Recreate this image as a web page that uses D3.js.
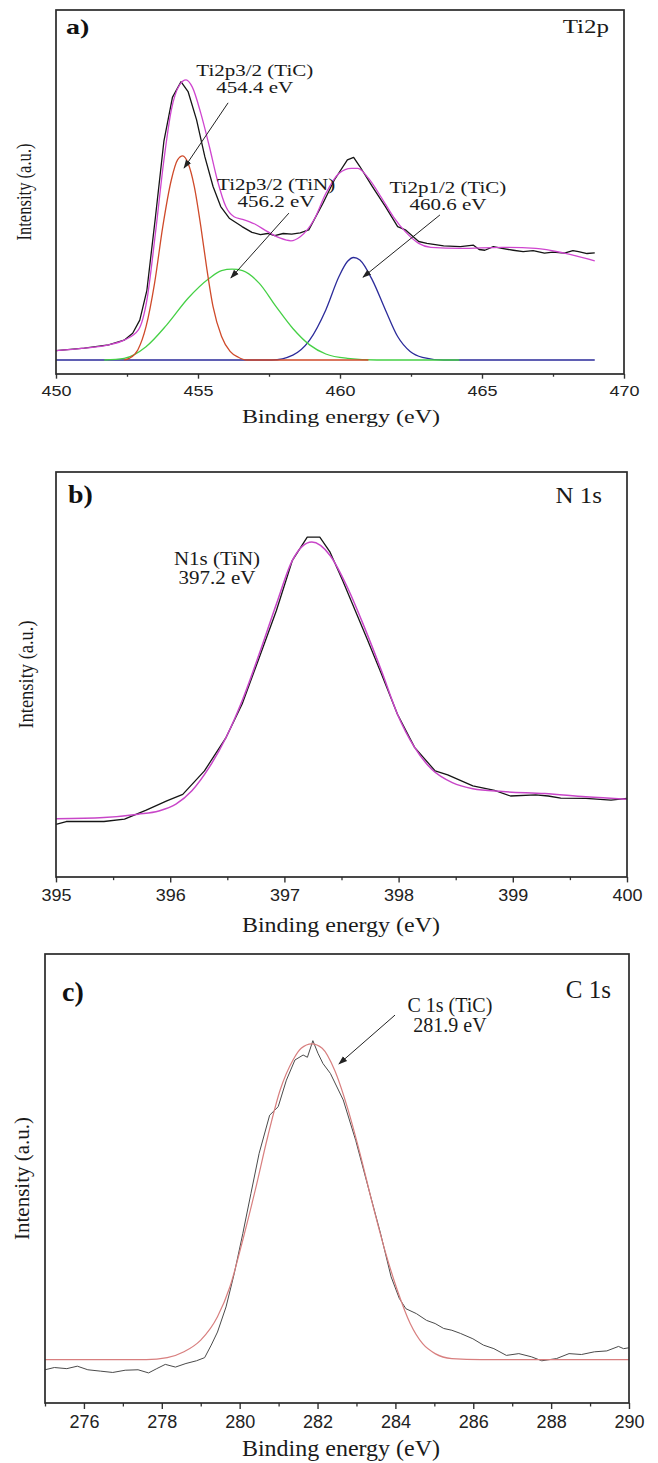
<!DOCTYPE html>
<html>
<head>
<meta charset="utf-8">
<script src="https://cdn.jsdelivr.net/npm/d3@7"></script>
<style>
  body { margin: 0; background: #fff; }
  svg { display: block; }
</style>
</head>
<body>
<svg id="xps"></svg>
<script>
// ---- data (binding energy eV, intensity a.u.) ----
var ti2pTicks = [450, 455, 460, 465, 470];
var n1sTicks = [395, 396, 397, 398, 399, 400];
var c1sTicks = [276, 278, 280, 282, 284, 286, 288, 290];

var ti2pRaw = [[450.0,6.4],[451.0,7.1],[451.85,8.0],[452.4,9.3],[452.7,11.2],[452.95,14.8],[453.2,23],[453.5,43],[453.8,64],[454.1,76],[454.4,80.3],[454.65,77.6],[454.95,69.8],[455.24,59.7],[455.53,51.5],[455.8,46],[456.1,42.8],[456.55,40.5],[456.9,38.9],[457.2,38.3],[457.45,38.6],[457.7,38.0],[458.0,38.6],[458.3,38.4],[458.6,38.8],[458.9,39.6],[459.4,46.9],[459.8,53.3],[460.26,58.8],[460.48,59.5],[460.7,57],[461.14,51.5],[461.6,46],[462.03,40.5],[462.3,39.6],[462.77,36.4],[463.06,35.9],[463.65,35.2],[464.24,35],[464.7,35.4],[464.9,34.2],[465.1,34],[465.4,35.0],[465.7,34.5],[466.1,34.0],[466.45,33.6],[466.8,33.9],[467.2,33.2],[467.5,33.5],[467.9,33.2],[468.2,33.9],[468.4,33.6],[468.7,33.1],[468.97,33.3]];
var ti2pEnvelope = [[450.0,6.4],[451.0,7.1],[451.85,8.0],[452.4,9.3],[452.9,12.1],[453.2,20.3],[453.5,38.6],[453.8,58.8],[454.06,72.5],[454.35,79.4],[454.58,80.8],[454.8,78.8],[455.1,71.6],[455.4,62.5],[455.68,53.3],[455.98,46],[456.27,43.2],[456.57,42.5],[457.0,41.2],[457.45,39.1],[457.9,37.3],[458.27,36.6],[458.6,37.7],[459.08,42.3],[459.5,49.6],[459.96,55.1],[460.4,56.5],[460.63,56.5],[461.0,53.8],[461.44,48.7],[461.88,43.2],[462.3,39.1],[462.77,35.9],[463.2,34.8],[464.24,34.5],[465.7,34.8],[466.9,34.5],[467.9,33.2],[468.97,31.1]];
var ti2pTiC32 = [[452.4,3.85],[452.58,4.3],[452.88,6.6],[453.17,13],[453.47,24.9],[453.76,40.5],[454.06,53.3],[454.28,58.8],[454.46,59.9],[454.65,57.9],[454.87,51.5],[455.1,40.5],[455.3,29.5],[455.53,18.5],[455.83,10.3],[456.13,6.2],[456.42,4.6],[456.7,3.85],[461.0,3.85]];
var ti2pTiN32 = [[451.7,3.85],[452.4,4.3],[453.17,7.5],[453.9,13.5],[454.65,20.8],[455.4,26.3],[455.83,28.4],[456.2,28.8],[456.57,28.4],[457.16,24.9],[457.75,18.5],[458.34,12.5],[458.93,8],[459.5,5.5],[460.26,4.3],[461.3,3.85],[464.2,3.85]];
var ti2pTiC12 = [[450.0,3.85],[457.6,3.85],[458.34,5.2],[458.93,9.3],[459.5,17.6],[459.96,26.7],[460.26,30.9],[460.48,32],[460.7,31.3],[461.14,25.8],[461.6,17.6],[462.03,10.3],[462.47,6.2],[462.9,4.6],[463.65,3.85],[468.97,3.85]];

var n1sRaw = [[395.0,13.0],[395.09,13.7],[395.42,13.7],[395.6,14.3],[395.79,16.5],[395.97,18.8],[396.11,20.4],[396.3,26.2],[396.49,34.5],[396.63,42.7],[396.78,54.2],[396.93,65.8],[397.07,78.2],[397.2,83.9],[397.31,83.9],[397.4,80.2],[397.51,73.2],[397.62,65.8],[397.73,58.4],[397.85,50.1],[397.99,40.2],[398.14,32],[398.32,26.2],[398.43,25.2],[398.65,22.5],[398.84,21.4],[398.98,20.0],[399.2,20.3],[399.31,20.0],[399.42,19.5],[399.64,19.4],[399.86,19.0],[400.0,19.4]];
var n1sFit = [[395.0,14.4],[395.42,14.7],[395.72,15.5],[395.9,16.3],[396.05,18.0],[396.19,21.3],[396.34,27.0],[396.49,34.5],[396.63,43.5],[396.78,55.1],[396.93,67.4],[397.07,78.2],[397.24,82.7],[397.4,79.4],[397.55,71.6],[397.7,61.7],[397.85,50.9],[397.99,40.2],[398.14,32],[398.29,26.6],[398.47,23.3],[398.65,21.8],[398.91,21.1],[399.28,20.6],[399.64,19.8],[400.0,19.2]];

var c1sRaw = [[275.0,7.4],[275.24,7.9],[275.56,7.65],[275.83,8.2],[276.1,7.4],[276.42,7.1],[276.74,6.8],[277.06,7.3],[277.39,7.4],[277.66,6.7],[277.87,7.65],[278.09,8.6],[278.35,8.0],[278.62,8.8],[278.89,9.4],[279.1,10.1],[279.27,12.9],[279.43,15.8],[279.65,21.4],[279.86,28.8],[280.08,37.7],[280.29,46.7],[280.5,55.6],[280.77,64.1],[280.99,66.0],[281.2,71.9],[281.42,76.4],[281.63,77.5],[281.74,77.0],[281.88,80.7],[282.01,77.9],[282.14,75.6],[282.33,73.4],[282.66,67.5],[282.98,58.5],[283.3,48.1],[283.62,37.7],[283.89,28.1],[284.1,23.3],[284.27,21.0],[284.54,19.9],[284.8,18.4],[285.02,17.7],[285.24,16.6],[285.45,16.2],[285.67,15.5],[285.99,14.3],[286.26,12.9],[286.53,12.1],[286.85,10.6],[287.17,11.0],[287.49,10.3],[287.76,9.4],[288.14,9.9],[288.46,11.0],[288.78,10.8],[289.11,11.4],[289.43,11.6],[289.73,12.6],[289.86,12.1],[290.0,12.3]];
var c1sFit = [[275.0,9.66],[277.6,9.66],[278.14,10.1],[278.57,11.4],[279.0,14.0],[279.43,19.2],[279.75,25.9],[280.08,36.3],[280.4,47.4],[280.72,59.3],[281.04,69.7],[281.37,76.4],[281.58,79.0],[281.85,80.0],[282.12,79.0],[282.44,74.1],[282.76,66.0],[283.09,55.6],[283.41,44.4],[283.73,34.0],[284.05,25.1],[284.38,17.7],[284.7,13.2],[285.02,11.0],[285.45,9.9],[286.2,9.66],[290.0,9.66]];

// annotations: text lines [eV, intensity] and arrows [from eV, from I, to eV, to I]
var ti2pLabels = [["Ti2p3/2 (TiC)", 457.0, 81.9], ["454.4 eV", 457.0, 77.2],
                  ["Ti2p3/2 (TiN)", 457.75, 50.5], ["456.2 eV", 457.75, 45.9],
                  ["Ti2p1/2 (TiC)", 463.8, 49.7], ["460.6 eV", 463.8, 45.0]];
var ti2pArrows = [[456.06, 74.5, 454.51, 56.6], [458.2, 44.2, 456.16, 26.4], [463.52, 43.7, 460.81, 26.6]];
var n1sLabels = [["N1s (TiN)", 396.41, 77.0], ["397.2 eV", 396.41, 72.3]];
var c1sLabels = [["C 1s (TiC)", 285.4, 87.1], ["281.9 eV", 285.4, 82.6]];
var c1sArrows = [[283.99, 86.4, 282.55, 75.5]];

var serif = "'Liberation Serif', 'Times New Roman', serif";
var sans = "'Liberation Sans', Arial, sans-serif";

var svg = d3.select("#xps").attr("width", 658).attr("height", 1463);

svg.append("defs").append("marker")
  .attr("id", "arr").attr("viewBox", "0 0 10 10")
  .attr("refX", 9).attr("refY", 5)
  .attr("markerWidth", 9).attr("markerHeight", 9)
  .attr("markerUnits", "userSpaceOnUse")
  .attr("orient", "auto")
  .append("path").attr("d", "M0,1.5 L10,5 L0,8.5 Z").attr("fill", "#222");

function txt(g, x, y, s, size, sy, opts) {
  opts = opts || {};
  return g.append("text")
    .attr("transform", "translate(" + x + "," + y + ") scale(1," + sy + ")" + (opts.rot ? " rotate(-90)" : ""))
    .attr("text-anchor", opts.anchor || "middle")
    .style("font-family", opts.family || serif)
    .style("font-size", size + "px")
    .style("font-weight", opts.bold ? "bold" : "normal")
    .attr("fill", opts.fill || "#1a1a1a")
    .text(s);
}

function panel(p) {
  var g = svg.append("g");
  var x = d3.scaleLinear().domain(p.xDomain).range([p.left, p.right]);
  var y = d3.scaleLinear().domain([0, 100]).range([p.bottom, p.top]);

  // minor ticks
  g.append("g")
    .attr("transform", "translate(0," + p.bottom + ")")
    .call(d3.axisBottom(x).tickValues(p.minor).tickSize(3.5 * p.sy).tickFormat(""))
    .call(function(a) { a.select(".domain").remove(); a.selectAll("line").attr("stroke", "#333").attr("stroke-width", 1.3); });

  // major ticks + labels
  var ax = g.append("g")
    .attr("transform", "translate(0," + p.bottom + ")")
    .call(d3.axisBottom(x).tickValues(p.ticks).tickSize(6 * p.sy).tickFormat(d3.format("d")));
  ax.select(".domain").remove();
  ax.selectAll("line").attr("stroke", "#333").attr("stroke-width", 1.4);
  ax.selectAll("text")
    .attr("y", 0).attr("dy", 0)
    .attr("transform", "translate(0," + p.tickOff + ") scale(1," + p.sy + ")")
    .style("font-family", sans).style("font-size", "18px").attr("fill", "#222");

  // series
  var line = d3.line().x(function(d) { return x(d[0]); }).y(function(d) { return y(d[1]); });
  p.series.forEach(function(s) {
    g.append("path").datum(s.data)
      .attr("fill", "none").attr("stroke", s.color).attr("stroke-width", s.w || 1.3)
      .attr("stroke-linejoin", "round")
      .attr("d", line.curve(s.smooth ? d3.curveMonotoneX : d3.curveLinear));
  });

  // frame
  g.append("rect")
    .attr("x", p.left).attr("y", p.top)
    .attr("width", p.right - p.left).attr("height", p.bottom - p.top)
    .attr("fill", "none").attr("stroke", "#2a2a2a").attr("stroke-width", 1.7);

  // annotations
  p.labels.forEach(function(l) { txt(g, x(l[1]), y(l[2]), l[0], p.annSize, p.sy); });
  p.arrows.forEach(function(a) {
    g.append("line")
      .attr("x1", x(a[0])).attr("y1", y(a[1])).attr("x2", x(a[2])).attr("y2", y(a[3]))
      .attr("stroke", "#222").attr("stroke-width", 1).attr("marker-end", "url(#arr)");
  });

  txt(g, p.left + p.letterX, p.top + p.letterY, p.letter, 28, p.sy, { anchor: "start", bold: true, fill: "#111" });
  txt(g, p.right - p.titleX, p.top + p.titleY, p.title, 25, p.sy, { anchor: "end" });
  txt(g, p.ylabX, (p.top + p.bottom) / 2, "Intensity (a.u.)", 21, p.ylabS, { rot: true });
  txt(g, 341, p.xlabY, "Binding energy (eV)", 24, p.sy);
}

panel({
  left: 56, right: 624, top: 10, bottom: 374, sy: 0.78, ylabS: 0.79, annSize: 21,
  xDomain: [450, 470], ticks: ti2pTicks, minor: [452.5, 457.5, 462.5, 467.5], tickOff: 22,
  letter: "a)", letterX: 10, letterY: 24, title: "Ti2p", titleX: 15, titleY: 23,
  ylabX: 31, xlabY: 423,
  series: [
    { data: ti2pTiC12, color: "#2b2b9a", smooth: true },
    { data: ti2pTiN32, color: "#45d045", smooth: true },
    { data: ti2pTiC32, color: "#cf4a2a", smooth: true },
    { data: ti2pRaw, color: "#151515" },
    { data: ti2pEnvelope, color: "#cf45cf", smooth: true }
  ],
  labels: ti2pLabels, arrows: ti2pArrows
});

panel({
  left: 56, right: 627, top: 472, bottom: 877, sy: 0.9, ylabS: 0.88, annSize: 21,
  xDomain: [395, 400], ticks: n1sTicks, minor: d3.range(395.5, 400, 1), tickOff: 24,
  letter: "b)", letterX: 12, letterY: 31, title: "N 1s", titleX: 25, titleY: 31,
  ylabX: 33, xlabY: 932,
  series: [
    { data: n1sRaw, color: "#151515" },
    { data: n1sFit, color: "#c846c8", smooth: true, w: 1.5 }
  ],
  labels: n1sLabels, arrows: []
});

panel({
  left: 45, right: 629, top: 954, bottom: 1403, sy: 1, ylabS: 1, annSize: 20,
  xDomain: [275, 290], ticks: c1sTicks, minor: [275, 277, 279, 281, 283, 285, 287, 289], tickOff: 25,
  letter: "c)", letterX: 17, letterY: 47, title: "C 1s", titleX: 18, titleY: 44,
  ylabX: 29, xlabY: 1456,
  series: [
    { data: c1sRaw, color: "#4a4a4a", w: 1 },
    { data: c1sFit, color: "#d87f7f", smooth: true, w: 1.2 }
  ],
  labels: c1sLabels, arrows: c1sArrows
});
</script>
</body>
</html>
